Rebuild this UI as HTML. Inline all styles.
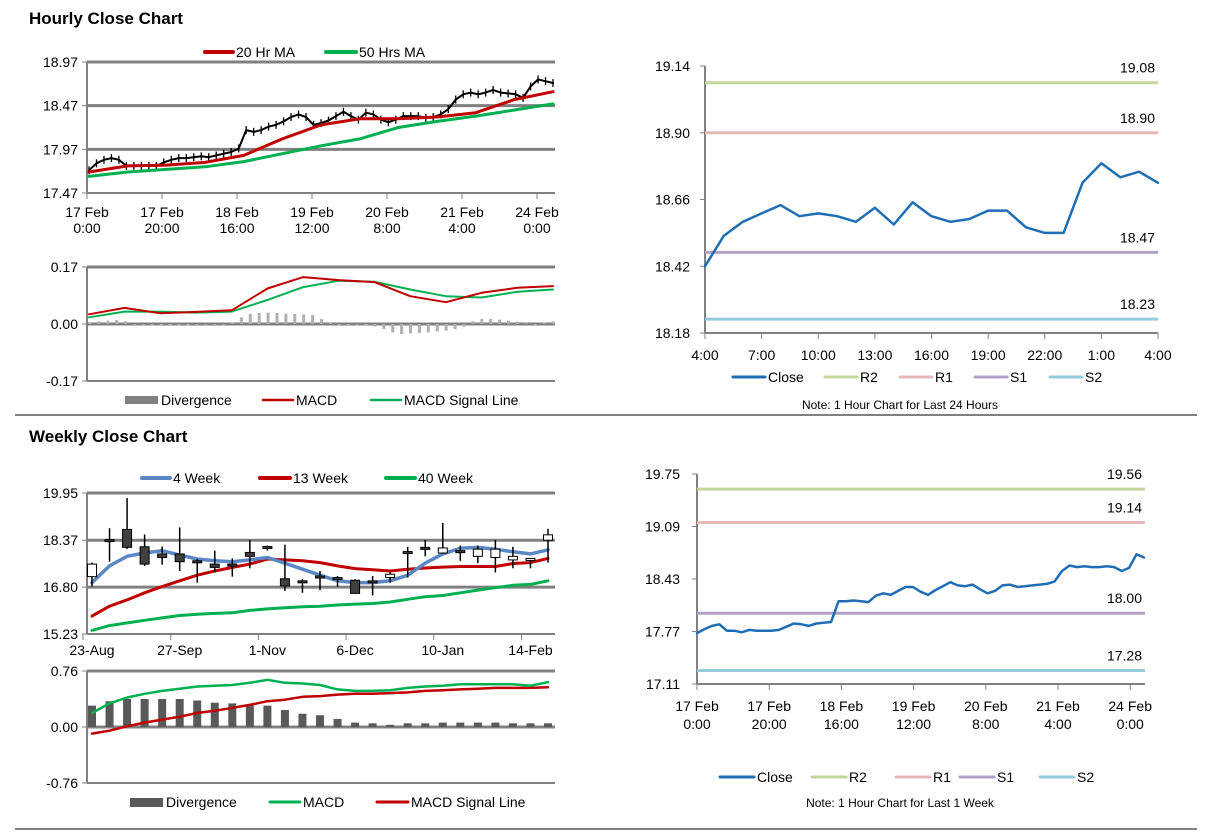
<!DOCTYPE html>
<html><head><meta charset="utf-8">
<style>
html,body{margin:0;padding:0;background:#fff;}
svg{display:block;font-family:"Liberation Sans",Arial,sans-serif;}
</style></head>
<body>
<svg id="chart" width="1212" height="834" viewBox="0 0 1212 834" xmlns="http://www.w3.org/2000/svg">
<rect x="0" y="0" width="1212" height="834" fill="#fff"/>
<text x="29" y="24" font-size="17" font-weight="bold">Hourly Close Chart</text>
<text x="29" y="442" font-size="17" font-weight="bold">Weekly Close Chart</text>
<line x1="15" y1="415" x2="1197" y2="415" stroke="#808080" stroke-width="2"/>
<line x1="15" y1="829" x2="1197" y2="829" stroke="#808080" stroke-width="2"/>
</svg>
<script>
// ===== Data =====
// Hourly close chart (top-left)
const hourlyClose=[17.73,17.81,17.85,17.87,17.85,17.78,17.78,17.78,17.78,17.78,17.82,17.85,17.87,17.87,17.88,17.89,17.88,17.90,17.92,17.94,17.98,18.19,18.17,18.19,18.23,18.25,18.29,18.34,18.37,18.34,18.25,18.27,18.30,18.35,18.40,18.35,18.31,18.39,18.37,18.31,18.28,18.31,18.35,18.35,18.35,18.33,18.34,18.37,18.43,18.54,18.60,18.62,18.60,18.62,18.65,18.62,18.61,18.60,18.56,18.69,18.77,18.75,18.73];
const ma20=[17.71,17.78,17.79,17.82,17.90,18.09,18.25,18.32,18.32,18.34,18.39,18.54,18.63];
const ma50=[17.66,17.71,17.74,17.77,17.83,17.92,18.01,18.09,18.22,18.29,18.35,18.42,18.49];
const hourlyYTicks=[18.97,18.47,17.97,17.47];
const hourlyXTicks=[["17 Feb","0:00"],["17 Feb","20:00"],["18 Feb","16:00"],["19 Feb","12:00"],["20 Feb","8:00"],["21 Feb","4:00"],["24 Feb","0:00"]];
// Hourly MACD
const macdH=[0.029,0.048,0.032,0.036,0.041,0.106,0.140,0.131,0.125,0.083,0.065,0.093,0.108,0.113];
const signalH=[0.020,0.037,0.037,0.034,0.037,0.072,0.110,0.129,0.126,0.103,0.083,0.079,0.096,0.103];
const divH=[0.005,0.008,0.01,0.012,0.008,0,0,-0.005,-0.005,-0.005,-0.005,-0.004,0,0,0,0,0.005,0.02,0.03,0.033,0.034,0.033,0.031,0.03,0.028,0.027,0.015,0.003,-0.005,-0.003,0,-0.004,-0.008,-0.015,-0.025,-0.03,-0.028,-0.027,-0.025,-0.022,-0.02,-0.015,-0.008,0.008,0.015,0.015,0.013,0.01,0.007,0.002,-0.005,0.005,0.008];
const macdHTicks=[0.17,0.00,-0.17];
// 24h chart (top-right)
const close24=[18.42,18.53,18.58,18.61,18.64,18.60,18.61,18.60,18.58,18.63,18.57,18.65,18.60,18.58,18.59,18.62,18.62,18.56,18.54,18.54,18.72,18.79,18.74,18.76,18.72];
const levels24=[19.08,18.90,18.47,18.23];
const y24Ticks=[19.14,18.90,18.66,18.42,18.18];
const x24Ticks=["4:00","7:00","10:00","13:00","16:00","19:00","22:00","1:00","4:00"];
// Weekly candles (bottom-left)
const wOpen =[17.15,18.39,18.73,18.15,17.91,17.91,17.68,17.57,17.57,17.96,18.16,17.08,17.01,17.17,17.12,17.03,17.01,17.12,17.99,18.13,17.94,18.02,17.83,17.79,17.71,17.71,18.37];
const wHigh =[17.62,18.77,19.78,18.56,18.16,18.80,17.74,18.02,17.76,18.38,18.19,18.22,17.08,17.34,17.17,17.06,17.17,17.29,18.15,18.38,18.95,18.19,18.19,18.38,18.15,17.76,18.75];
const wLow  =[16.82,17.65,18.08,17.51,17.55,17.34,16.95,17.29,17.15,17.43,18.02,16.67,16.61,16.70,16.82,16.59,16.52,16.95,17.12,17.83,17.91,17.68,17.60,17.29,17.43,17.43,17.62];
const wClose=[17.57,18.37,18.13,17.57,17.79,17.65,17.65,17.46,17.55,17.83,18.11,16.84,17.01,17.17,17.12,16.59,17.01,17.23,17.99,18.13,18.11,18.02,18.07,18.07,17.83,17.76,18.55];
const ma4w=[16.95,17.51,17.83,17.94,18.02,17.87,17.74,17.68,17.65,17.71,17.79,17.60,17.40,17.20,17.01,16.95,16.95,17.01,17.20,17.60,17.91,18.10,18.13,18.07,17.98,17.91,18.05];
const ma13w=[15.83,16.16,16.37,16.61,16.82,17.01,17.20,17.34,17.46,17.57,17.74,17.71,17.68,17.62,17.51,17.42,17.38,17.34,17.40,17.44,17.47,17.49,17.49,17.49,17.59,17.62,17.76];
const ma40w=[15.35,15.51,15.60,15.69,15.77,15.85,15.89,15.92,15.94,16.02,16.07,16.11,16.14,16.16,16.20,16.23,16.25,16.30,16.39,16.48,16.52,16.61,16.70,16.78,16.86,16.89,17.01];
const weeklyYTicks=[19.95,18.37,16.80,15.23];
const weeklyXLabels=["23-Aug","27-Sep","1-Nov","6-Dec","10-Jan","14-Feb"];
// Weekly MACD
const divW=[0.29,0.35,0.38,0.38,0.38,0.38,0.36,0.33,0.32,0.29,0.29,0.23,0.18,0.16,0.11,0.06,0.05,0.03,0.05,0.05,0.06,0.06,0.06,0.06,0.05,0.05,0.05];
const macdW=[0.19,0.32,0.40,0.45,0.49,0.52,0.55,0.56,0.57,0.60,0.64,0.60,0.59,0.57,0.51,0.49,0.49,0.50,0.53,0.55,0.56,0.58,0.58,0.58,0.58,0.56,0.61];
const signalW=[-0.09,-0.05,0.01,0.06,0.10,0.14,0.19,0.22,0.26,0.30,0.35,0.37,0.41,0.42,0.44,0.45,0.45,0.46,0.47,0.49,0.50,0.51,0.52,0.53,0.53,0.53,0.54];
const macdWTicks=[0.76,0.00,-0.76];
// Week chart (bottom-right)
const closeWk=[17.75,17.80,17.84,17.86,17.78,17.78,17.76,17.79,17.78,17.78,17.78,17.79,17.83,17.87,17.86,17.84,17.87,17.88,17.89,18.15,18.15,18.16,18.15,18.14,18.22,18.25,18.23,18.28,18.33,18.33,18.27,18.23,18.29,18.34,18.39,18.35,18.34,18.36,18.30,18.25,18.28,18.35,18.36,18.33,18.34,18.35,18.36,18.37,18.40,18.53,18.60,18.58,18.59,18.58,18.58,18.59,18.58,18.53,18.57,18.74,18.70];
const levelsWk=[19.56,19.14,18.00,17.28];
const yWkTicks=[19.75,19.09,18.43,17.77,17.11];
const xWkTicks=[["17 Feb","0:00"],["17 Feb","20:00"],["18 Feb","16:00"],["19 Feb","12:00"],["20 Feb","8:00"],["21 Feb","4:00"],["24 Feb","0:00"]];
const levelNames=["R2","R1","S1","S2"];
const levelColors=["#C3D69B","#E6B9B8","#B3A2C7","#93CDDD"];

// ===== Helpers =====
const NS='http://www.w3.org/2000/svg';
const svg=document.getElementById('chart');
function mk(tag,attrs,name){
  const e=document.createElementNS(NS,tag);
  for(const k in attrs)e.setAttribute(k,attrs[k]);
  
  
  svg.appendChild(e);return e;
}
function txt(x,y,s,name,anchor,size){
  const t=mk('text',{x:x,y:y,'font-size':size||14,'text-anchor':anchor||'start',fill:'#000'},name);
  t.textContent=s;return t;
}
function sc(d0,d1,r0,r1){return v=>r0+(v-d0)*(r1-r0)/(d1-d0);}
function poly(vals,xs,ys,color,w,name){
  const pts=vals.map((v,i)=>xs(i).toFixed(1)+','+ys(v).toFixed(1)).join(' ');
  return mk('polyline',{points:pts,fill:'none',stroke:color,'stroke-width':w,'stroke-linejoin':'round','stroke-linecap':'round'},name);
}
function gridPanel(x0,x1,ticks,ys,prefix,dec){
  ticks.forEach((t,i)=>{
    const y=ys(t);
    mk('line',{x1:x0,x2:x1,y1:y,y2:y,stroke:'#808080','stroke-width':i===ticks.length-1?2:3},prefix+'-gridline');
    mk('line',{x1:x0-5,x2:x0,y1:y,y2:y,stroke:'#808080','stroke-width':1},prefix+'-y-tick');
    txt(x0-9,y+5,t.toFixed(dec),prefix+'-y-label','end');
  });
  mk('line',{x1:x0,x2:x0,y1:ys(ticks[0]),y2:ys(ticks[ticks.length-1]),stroke:'#808080','stroke-width':2},prefix+'-y-axis');
}
function legLine(x1,x2,y,color,w,label,name){
  mk('line',{x1:x1,x2:x2,y1:y,y2:y,stroke:color,'stroke-width':w,'stroke-linecap':'round'},name+'-swatch');
  txt(x2+3,y+5,label,name);
}

// ===== Top-left: hourly price =====
{
  const ys=sc(17.47,18.97,193,62);
  gridPanel(87,555,hourlyYTicks,ys,'hourly',2);
  hourlyXTicks.forEach((l,k)=>{
    const x=87+k*75;
    mk('line',{x1:x,x2:x,y1:193,y2:199,stroke:'#808080','stroke-width':1},'hourly-x-tick');
    txt(x,217,l[0],'hourly-x-label','middle');
    txt(x,233,l[1],'hourly-x-label','middle');
  });
  const xc=sc(0,hourlyClose.length-1,89,553);
  poly(hourlyClose,xc,ys,'#000',2,'hourly-close-line');
  hourlyClose.forEach((v,i)=>{
    mk('line',{x1:xc(i),x2:xc(i),y1:ys(v)-4,y2:ys(v)+4,stroke:'#000','stroke-width':1.3},'hourly-bar');
  });
  const xm=sc(0,ma20.length-1,89,553);
  poly(ma50,xm,ys,'#00B050',3,'ma50-line');
  poly(ma20,xm,ys,'#C00000',3,'ma20-line');
  legLine(205,233,52,'#C00000',4,'20 Hr MA','legend-ma20');
  legLine(326,356,52,'#00B050',4,'50 Hrs MA','legend-ma50');
}
// ===== Top-left: hourly MACD =====
{
  const ys=sc(-0.17,0.17,381,267);
  gridPanel(87,555,macdHTicks,ys,'macd-hourly',2);
  const xd=sc(0,divH.length-1,90,553);
  divH.forEach((v,i)=>{
    const y0=ys(0),y1=ys(v);
    mk('rect',{x:xd(i)-1.5,y:Math.min(y0,y1),width:3,height:Math.max(0.8,Math.abs(y1-y0)),fill:'#B0B0B0'},'divergence-bar');
  });
  const xm=sc(0,macdH.length-1,89,553);
  poly(signalH,xm,ys,'#00B050',2,'macd-signal-line');
  poly(macdH,xm,ys,'#C00000',2,'macd-line');
  mk('rect',{x:125,y:396,width:33,height:8,fill:'#808080'},'legend-divergence-swatch');
  txt(161,405,'Divergence','legend-divergence');
  legLine(263,293,400,'#C00000',2.5,'MACD','legend-macd');
  legLine(371,401,400,'#00B050',2.5,'MACD Signal Line','legend-macd-signal');
}
// ===== Top-right: 24h =====
{
  const ys=sc(18.18,19.14,333,66);
  const xs=sc(0,close24.length-1,705,1158);
  y24Ticks.forEach(t=>{
    mk('line',{x1:700,x2:705,y1:ys(t),y2:ys(t),stroke:'#808080','stroke-width':1},'day-y-tick');
    txt(690,ys(t)+5,t.toFixed(2),'day-y-label','end');
  });
  mk('line',{x1:705,x2:705,y1:66,y2:333,stroke:'#808080','stroke-width':2},'day-y-axis');
  mk('line',{x1:705,x2:1158,y1:333,y2:333,stroke:'#808080','stroke-width':2},'day-x-axis');
  x24Ticks.forEach((l,k)=>{
    const x=705+k*(453/8);
    mk('line',{x1:x,x2:x,y1:333,y2:339,stroke:'#808080','stroke-width':1},'day-x-tick');
    txt(x,360,l,'day-x-label','middle');
  });
  levels24.forEach((v,i)=>{
    mk('line',{x1:705,x2:1158,y1:ys(v),y2:ys(v),stroke:levelColors[i],'stroke-width':3},'day-level-'+levelNames[i]);
    txt(1155,ys(v)-10,v.toFixed(2),'day-level-label','end');
  });
  poly(close24,xs,ys,'#1F6EB4',2.5,'day-close-line');
  const lx=[733,825,900,975,1050];const labs=['Close','R2','R1','S1','S2'];const cols=['#1F6EB4'].concat(levelColors);
  labs.forEach((l,i)=>legLine(lx[i],lx[i]+32,377,cols[i],3,l,'day-legend-'+l.toLowerCase()));
  txt(900,409,'Note: 1 Hour Chart for Last 24 Hours','day-note','middle',12);
}
// ===== Bottom-left: weekly =====
{
  const ys=sc(15.23,19.95,634,493);
  const xs=sc(0,wOpen.length-1,92,548);
  gridPanel(87,555,weeklyYTicks,ys,'weekly',2);
  weeklyXLabels.forEach((l,k)=>{
    const x=xs(k*5);
    txt(x,655,l,'weekly-x-label','middle');
    mk('line',{x1:x-9,x2:x-9,y1:634,y2:640,stroke:'#808080','stroke-width':1},'weekly-x-tick');
  });
  poly(ma40w,xs,ys,'#00B050',3,'ma40w-line');
  poly(ma13w,xs,ys,'#C00000',3,'ma13w-line');
  poly(ma4w,xs,ys,'#5B87C5',3.5,'ma4w-line');
  wOpen.forEach((o,i)=>{
    const c=wClose[i],x=xs(i);
    mk('line',{x1:x,x2:x,y1:ys(wHigh[i]),y2:ys(wLow[i]),stroke:'#000','stroke-width':1.5},'candle-wick');
    const top=ys(Math.max(o,c)),bot=ys(Math.min(o,c));
    mk('rect',{x:x-4.5,y:top,width:9,height:Math.max(2,bot-top),fill:c>o?'#fff':'#404040',stroke:'#000','stroke-width':1},'candle-body');
  });
  legLine(142,170,478,'#5B87C5',4,'4 Week','legend-4week');
  legLine(260,290,478,'#C00000',4,'13 Week','legend-13week');
  legLine(386,415,478,'#00B050',4,'40 Week','legend-40week');
}
// ===== Bottom-left: weekly MACD =====
{
  const ys=sc(-0.76,0.76,783,671);
  const xs=sc(0,divW.length-1,92,548);
  gridPanel(87,555,macdWTicks,ys,'macd-weekly',2);
  divW.forEach((v,i)=>{
    const y0=ys(0),y1=ys(v);
    mk('rect',{x:xs(i)-4,y:Math.min(y0,y1),width:8,height:Math.abs(y1-y0),fill:'#595959'},'weekly-divergence-bar');
  });
  poly(signalW,xs,ys,'#C00000',2.5,'weekly-signal-line');
  poly(macdW,xs,ys,'#00B050',2.5,'weekly-macd-line');
  mk('rect',{x:130,y:798,width:33,height:9,fill:'#595959'},'legend-weekly-divergence-swatch');
  txt(166,807,'Divergence','legend-weekly-divergence');
  legLine(270,300,802,'#00B050',3,'MACD','legend-weekly-macd');
  legLine(377,408,802,'#C00000',3,'MACD Signal Line','legend-weekly-signal');
}
// ===== Bottom-right: week =====
{
  const ys=sc(17.11,19.75,684,474);
  const xs=sc(0,closeWk.length-1,697,1144);
  yWkTicks.forEach(t=>{
    mk('line',{x1:692,x2:697,y1:ys(t),y2:ys(t),stroke:'#808080','stroke-width':1},'week-y-tick');
    txt(680,ys(t)+5,t.toFixed(2),'week-y-label','end');
  });
  mk('line',{x1:697,x2:697,y1:474,y2:684,stroke:'#808080','stroke-width':2},'week-y-axis');
  mk('line',{x1:697,x2:1145,y1:684,y2:684,stroke:'#808080','stroke-width':2},'week-x-axis');
  xWkTicks.forEach((l,k)=>{
    const x=697+k*72.2;
    mk('line',{x1:x,x2:x,y1:684,y2:690,stroke:'#808080','stroke-width':1},'week-x-tick');
    txt(x,711,l[0],'week-x-label','middle');
    txt(x,729,l[1],'week-x-label','middle');
  });
  levelsWk.forEach((v,i)=>{
    mk('line',{x1:697,x2:1145,y1:ys(v),y2:ys(v),stroke:levelColors[i],'stroke-width':3},'week-level-'+levelNames[i]);
    txt(1142,ys(v)-10,v.toFixed(2),'week-level-label','end');
  });
  poly(closeWk,xs,ys,'#1F6EB4',2.5,'week-close-line');
  const lx=[720,812,896,960,1040];const labs=['Close','R2','R1','S1','S2'];const cols=['#1F6EB4'].concat(levelColors);
  labs.forEach((l,i)=>legLine(lx[i],lx[i]+34,777,cols[i],3,l,'week-legend-'+l.toLowerCase()));
  txt(900,807,'Note: 1 Hour Chart for Last 1 Week','week-note','middle',12);
}
</script>
</body></html>
